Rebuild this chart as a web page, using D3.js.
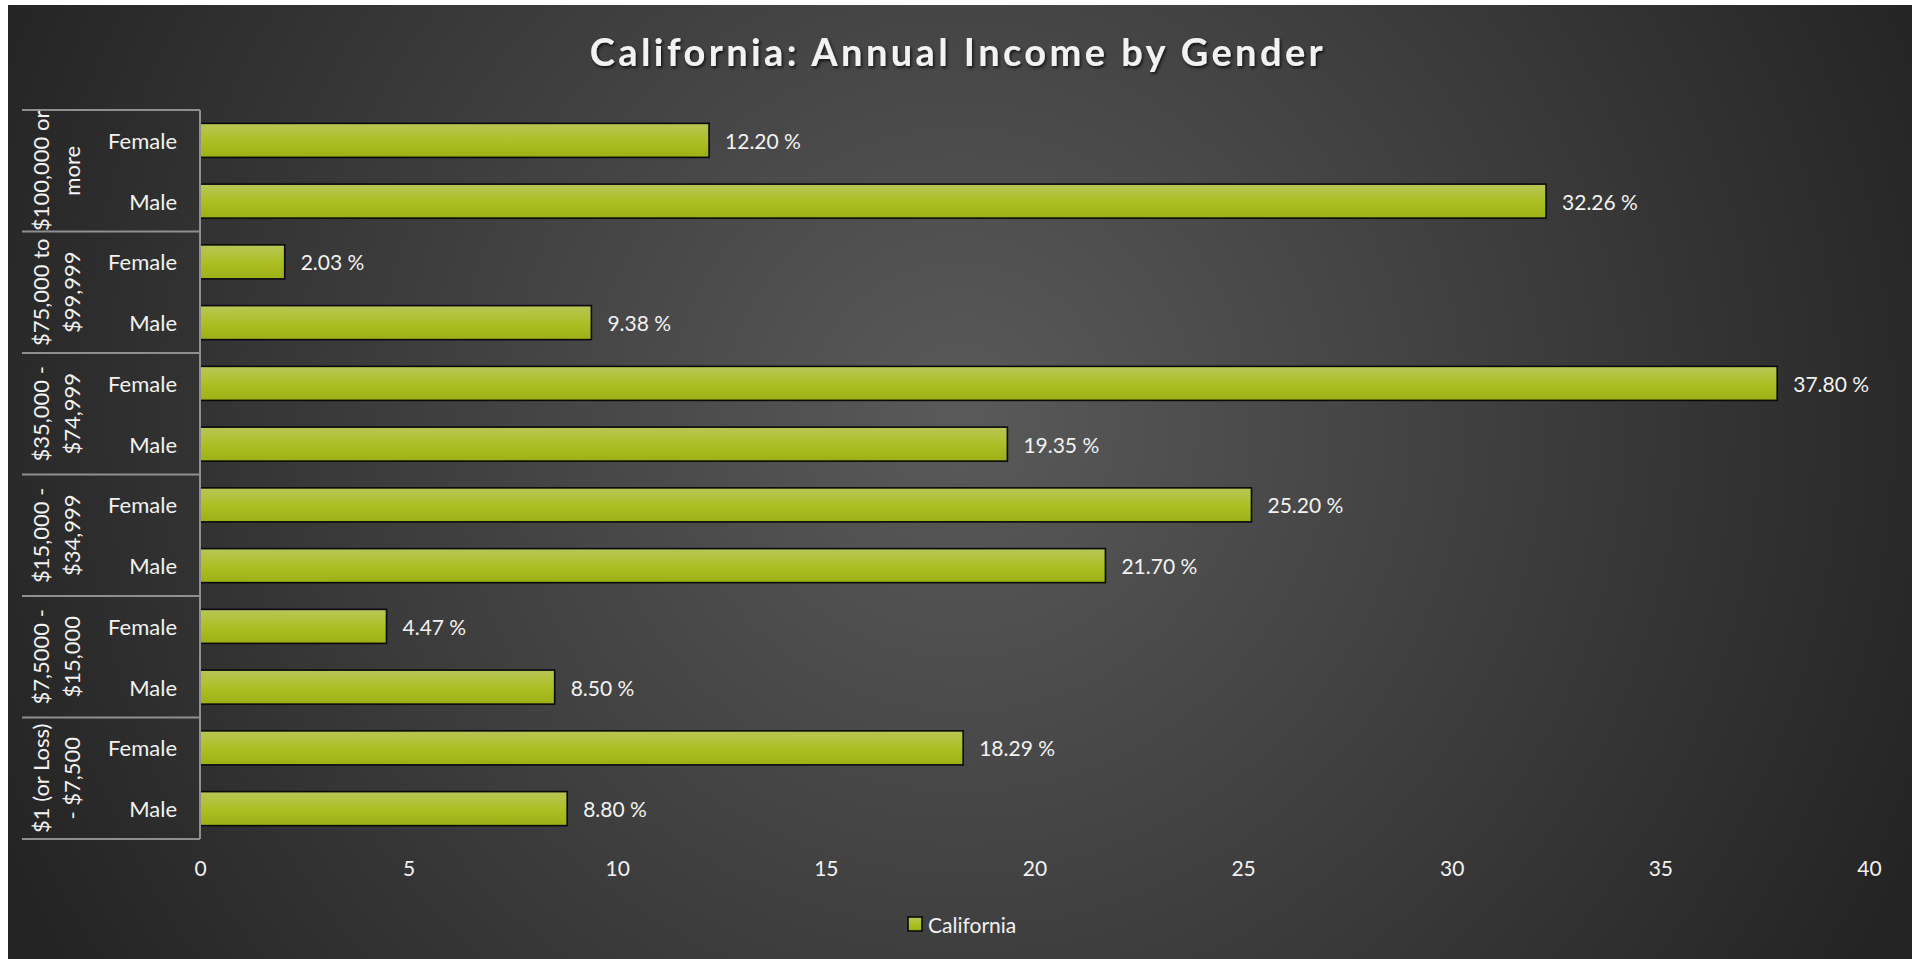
<!DOCTYPE html>
<html><head><meta charset="utf-8">
<script src="https://cdn.jsdelivr.net/npm/d3@7/dist/d3.min.js"></script>
<style>html,body{margin:0;padding:0;background:#fff;overflow:hidden}svg{display:block}</style>
</head><body>
<script>
const groups = ["$100,000 or more","$75,000 to $99,999","$35,000 - $74,999","$15,000 - $34,999","$7,5000 - $15,000","$1 (or Loss) - $7,500"];
const groupLines = [["$100,000 or","more"],["$75,000 to","$99,999"],["$35,000 -","$74,999"],["$15,000 -","$34,999"],["$7,5000 -","$15,000"],["$1 (or Loss)","- $7,500"]];
const genders = ["Female","Male"];
const femaleValues = [12.20, 2.03, 37.80, 25.20, 4.47, 18.29];
const maleValues = [32.26, 9.38, 19.35, 21.70, 8.50, 8.80];
const xTicks = [0,5,10,15,20,25,30,35,40];
const seriesName = "California";
const title = "California: Annual Income by Gender";

const W = 1919, H = 959;
const svg = d3.select("body").append("svg").attr("width", W).attr("height", H);
const defs = svg.append("defs");
const rg = defs.append("radialGradient").attr("id","bg").attr("gradientUnits","userSpaceOnUse")
  .attr("cx",960).attr("cy",420).attr("r",1050);
rg.append("stop").attr("offset","0%").attr("stop-color","#5a5a5a");
rg.append("stop").attr("offset","100%").attr("stop-color","#242424");
const bg = defs.append("linearGradient").attr("id","bar").attr("x1",0).attr("y1",0).attr("x2",0).attr("y2",1);
bg.append("stop").attr("offset","0%").attr("stop-color","#b8c656");
bg.append("stop").attr("offset","55%").attr("stop-color","#abbf22");
bg.append("stop").attr("offset","100%").attr("stop-color","#9cb016");
const sh = defs.append("filter").attr("id","shadow").attr("x","-10%").attr("y","-30%").attr("width","120%").attr("height","160%");
sh.append("feDropShadow").attr("dx",1.5).attr("dy",2).attr("stdDeviation",1.5).attr("flood-color","#000").attr("flood-opacity",0.7);

svg.append("rect").attr("x",8).attr("y",5).attr("width",1904).attr("height",H-5).attr("fill","url(#bg)");

const rows = [];
groups.forEach((g,i)=>{
  rows.push({key:g+"|Female", group:g, gender:"Female", value:femaleValues[i]});
  rows.push({key:g+"|Male", group:g, gender:"Male", value:maleValues[i]});
});

const plotL = 200, plotR = 1869, plotT = 110, plotB = 839;
const x = d3.scaleLinear().domain([0,40]).range([plotL, plotR]);
const y = d3.scaleBand().domain(rows.map(r=>r.key)).range([plotT, plotB]).paddingInner(0.44).paddingOuter(0.22);
const yg = d3.scaleBand().domain(groups).range([plotT, plotB]);

const font = "Lato, 'Open Sans', sans-serif";

// title
svg.append("text").attr("x", 958).attr("y", 51).attr("text-anchor","middle").attr("dominant-baseline","central")
  .attr("fill","#f2f2f2").attr("font-family",font).attr("font-weight","bold").attr("font-size",38)
  .attr("letter-spacing",3.4).attr("filter","url(#shadow)").text(title);

// bars
svg.append("g").selectAll("rect").data(rows).join("rect")
  .attr("x", x(0)).attr("y", d=>y(d.key)).attr("width", d=>x(d.value)-x(0)).attr("height", y.bandwidth())
  .attr("fill","url(#bar)").attr("stroke","#0a0a0a").attr("stroke-width",1.6);

// value labels
svg.append("g").selectAll("text").data(rows).join("text")
  .attr("x", d=>x(d.value)+16).attr("y", d=>y(d.key)+y.bandwidth()/2).attr("dominant-baseline","central")
  .attr("fill","#f2f2f2").attr("font-family",font).attr("font-size",21)
  .text(d=>d.value.toFixed(2)+" %");

// category axis
const ax = svg.append("g");
const axColor = "#8f8f8f";
ax.append("line").attr("x1",plotL).attr("x2",plotL).attr("y1",plotT).attr("y2",plotB).attr("stroke",axColor).attr("stroke-width",2);
const bounds = groups.map(g=>yg(g)).concat([plotB]);
ax.selectAll("line.div").data(bounds).join("line").attr("class","div")
  .attr("x1",22).attr("x2",plotL).attr("y1",d=>d).attr("y2",d=>d).attr("stroke",axColor).attr("stroke-width",2);
ax.selectAll("text.g").data(rows).join("text").attr("class","g")
  .attr("x",177).attr("y", d=>y(d.key)+y.bandwidth()/2).attr("text-anchor","end").attr("dominant-baseline","central")
  .attr("fill","#f2f2f2").attr("font-family",font).attr("font-size",22).text(d=>d.gender);
groups.forEach((g,i)=>{
  const cy = yg(g)+yg.bandwidth()/2;
  groupLines[i].forEach((ln,j)=>{
    const cx = 40 + j*31;
    ax.append("text").attr("transform",`translate(${cx},${cy}) rotate(-90)`)
      .attr("text-anchor","middle").attr("dominant-baseline","central")
      .attr("fill","#f2f2f2").attr("font-family",font).attr("font-size",22).text(ln);
  });
});

// x axis ticks
const xa = svg.append("g").attr("transform",`translate(0,${plotB})`)
  .call(d3.axisBottom(x).tickValues(xTicks).tickSize(0).tickPadding(22).tickFormat(d3.format("d")));
xa.select(".domain").remove();
xa.selectAll("text").attr("fill","#f2f2f2").attr("font-family",font).attr("font-size",21);

// legend
const lg = svg.append("g");
lg.append("rect").attr("x",908).attr("y",917).attr("width",14).attr("height",14)
  .attr("fill","url(#bar)").attr("stroke","#0a0a0a").attr("stroke-width",1.6);
lg.append("text").attr("x",928).attr("y",924).attr("dominant-baseline","central")
  .attr("fill","#f2f2f2").attr("font-family",font).attr("font-size",21).text(seriesName);
</script>
</body></html>
